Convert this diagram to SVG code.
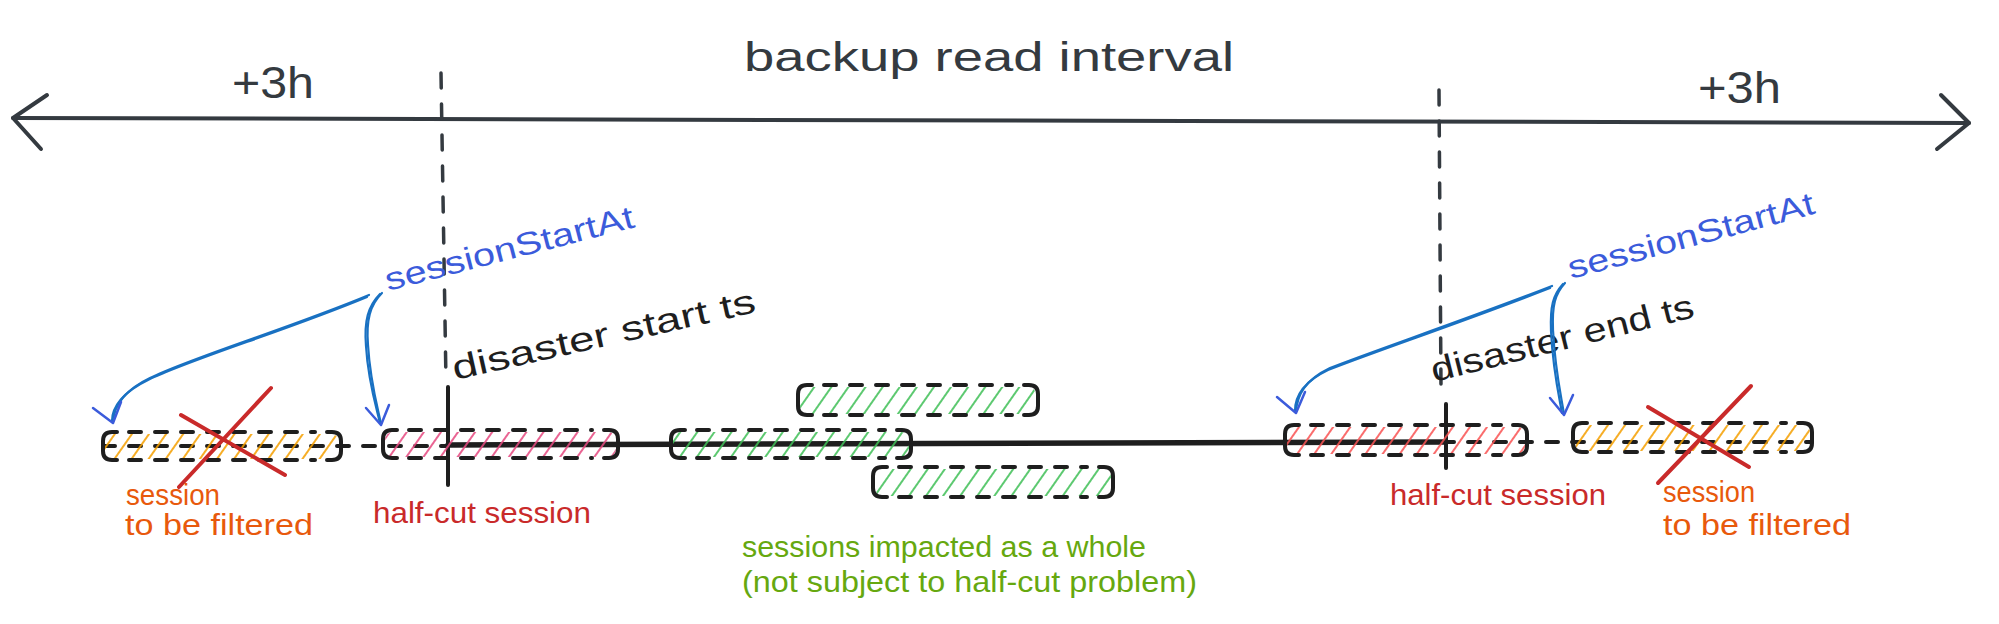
<svg xmlns="http://www.w3.org/2000/svg" width="1999" height="624" viewBox="0 0 1999 624">
<style>
.t{font-family:"Liberation Sans",Arial,sans-serif}
.edge{fill:none;stroke:#1e1e1e;stroke-width:4;stroke-linecap:round;stroke-linejoin:round}
.dash{fill:none;stroke:#1e1e1e;stroke-width:4;stroke-linecap:round;stroke-dasharray:12 14}
.axis{fill:none;stroke:#343a40;stroke-width:4;stroke-linecap:round;stroke-linejoin:round}
.vdash{fill:none;stroke:#343a40;stroke-width:3.5;stroke-linecap:round;stroke-dasharray:15 16}
.vsolid{fill:none;stroke:#1e1e1e;stroke-width:4;stroke-linecap:round}
.cross{fill:none;stroke:#c92a2a;stroke-width:4;stroke-linecap:round}
.arr{fill:none;stroke:#1971c2;stroke-width:2.2;stroke-linecap:round}
.head{fill:none;stroke:#3b5bdb;stroke-width:2.5;stroke-linecap:round;stroke-linejoin:round}
.orange{fill:#e8590c}
.red{fill:#c92a2a}
.green{fill:#66a80f}
.blue{fill:#3b5bdb}
.black{fill:#1e1e1e}
</style>
<defs>
<pattern id="h-orange" patternUnits="userSpaceOnUse" width="14" height="40" patternTransform="rotate(35)"><line x1="7" y1="0" x2="7" y2="40" stroke="#f59f00" stroke-width="1.7"/></pattern>
<pattern id="h-pink" patternUnits="userSpaceOnUse" width="14" height="40" patternTransform="rotate(35)"><line x1="7" y1="0" x2="7" y2="40" stroke="#e64980" stroke-width="1.7"/></pattern>
<pattern id="h-red" patternUnits="userSpaceOnUse" width="14" height="40" patternTransform="rotate(35)"><line x1="7" y1="0" x2="7" y2="40" stroke="#fa5252" stroke-width="1.7"/></pattern>
<pattern id="h-green" patternUnits="userSpaceOnUse" width="14" height="40" patternTransform="rotate(35)"><line x1="7" y1="0" x2="7" y2="40" stroke="#40c057" stroke-width="1.7"/></pattern>
</defs>
<rect width="1999" height="624" fill="#ffffff"/>

<g id="interval-axis">
<path class="axis" d="M13,118 L1969,123"/>
<path class="axis" d="M47,95 L13,118 L41,149"/>
<path class="axis" d="M1941,95 L1969,123 L1937,149"/>
<text class="t" x="744" y="71" font-size="41" fill="#343a40" textLength="490" lengthAdjust="spacingAndGlyphs">backup read interval</text>
<text class="t" x="232" y="98" font-size="44" fill="#343a40" textLength="82" lengthAdjust="spacingAndGlyphs">+3h</text>
<text class="t" x="1698" y="103" font-size="44" fill="#343a40" textLength="83" lengthAdjust="spacingAndGlyphs">+3h</text>
</g>

<g id="disaster-start">
<path class="vdash" d="M441,73 L446,382"/>
<path class="vsolid" d="M448,387 L448,485"/>
<text class="t black" x="455" y="380" font-size="34" transform="rotate(-12.7 455 380)" textLength="310" lengthAdjust="spacingAndGlyphs">disaster start ts</text>
</g>

<g id="disaster-end">
<path class="vdash" d="M1439,90 L1441,387"/>
<path class="vsolid" d="M1446,404 L1446,468"/>
<text class="t black" x="1434" y="382" font-size="34" transform="rotate(-14 1434 382)" textLength="270" lengthAdjust="spacingAndGlyphs">disaster end ts</text>
</g>

<g id="connectors">
<path class="dash" d="M103,446 H448" stroke-dasharray="14 14"/>
<path fill="none" stroke="#1e1e1e" stroke-width="5.5" stroke-linecap="round" d="M448,445 L1446,442"/>
<path class="dash" d="M1442,442 H1812" stroke-dasharray="14 14"/>
<path class="arr" d="M369,295 C290,328 190,358 150,378 C125,390 114,405 113,422"/>
<path class="arr" d="M367,297 C288,330 188,360 148,380 C123,392 112,407 112,421"/>
<path class="head" d="M93,408 L113,423 L121,402"/>
<path class="arr" d="M382,293 C370,305 366,320 368,345 C370,380 377,405 381,424"/>
<path class="arr" d="M380,294 C368,306 364,321 366,346 C368,381 376,406 380,423"/>
<path class="head" d="M366,408 L381,425 L389,405"/>
<path class="arr" d="M1552,286 C1470,318 1370,352 1330,368 C1305,380 1297,395 1296,412"/>
<path class="arr" d="M1550,288 C1468,320 1368,354 1328,370 C1303,382 1295,397 1295,411"/>
<path class="head" d="M1277,397 L1296,413 L1305,392"/>
<path class="arr" d="M1565,283 C1555,294 1552,305 1553,330 C1555,370 1561,395 1564,414"/>
<path class="arr" d="M1563,284 C1553,295 1550,306 1551,331 C1553,371 1559,396 1562,413"/>
<path class="head" d="M1550,398 L1564,415 L1573,395"/>
</g>

<g id="session-filtered-left">
<rect x="105" y="434" width="234" height="25" rx="8" fill="url(#h-orange)"/>
<path class="edge" d="M117,432 H112 Q103,432 103,441 V451 Q103,460 112,460 H117"/>
<path class="edge" d="M327,432 H332 Q341,432 341,441 V451 Q341,460 332,460 H327"/>
<path class="dash" d="M129,432 H315 M129,460 H315"/>
<path class="cross" d="M181,415 L285,475 M271,388 L179,487"/>
<text class="t orange" x="126" y="505" font-size="29" textLength="94" lengthAdjust="spacingAndGlyphs">session</text>
<text class="t orange" x="125" y="535" font-size="29" textLength="188" lengthAdjust="spacingAndGlyphs">to be filtered</text>
</g>

<g id="session-halfcut-left">
<rect x="385" y="432" width="231" height="25" rx="8" fill="url(#h-pink)"/>
<path class="edge" d="M397,430 H392 Q383,430 383,439 V449 Q383,458 392,458 H397"/>
<path class="edge" d="M604,430 H609 Q618,430 618,439 V449 Q618,458 609,458 H604"/>
<path class="dash" d="M409,430 H592 M409,458 H592"/>
<text class="t red" x="373" y="523" font-size="29" textLength="218" lengthAdjust="spacingAndGlyphs">half-cut session</text>
</g>

<g id="session-start-label-left">
<text class="t blue" x="388" y="291" font-size="32" transform="rotate(-14.5 388 291)" textLength="256" lengthAdjust="spacingAndGlyphs">sessionStartAt</text>
</g>

<g id="session-whole-top">
<rect x="800" y="387" width="236" height="27" rx="8" fill="url(#h-green)"/>
<path class="edge" d="M812,385 H807 Q798,385 798,394 V406 Q798,415 807,415 H812"/>
<path class="edge" d="M1024,385 H1029 Q1038,385 1038,394 V406 Q1038,415 1029,415 H1024"/>
<path class="dash" d="M824,385 H1012 M824,415 H1012"/>
</g>

<g id="session-whole-mid">
<rect x="673" y="432" width="236" height="25" rx="8" fill="url(#h-green)"/>
<path class="edge" d="M685,430 H680 Q671,430 671,439 V449 Q671,458 680,458 H685"/>
<path class="edge" d="M897,430 H902 Q911,430 911,439 V449 Q911,458 902,458 H897"/>
<path class="dash" d="M697,430 H885 M697,458 H885"/>
</g>

<g id="session-whole-bottom">
<rect x="875" y="469" width="236" height="27" rx="8" fill="url(#h-green)"/>
<path class="edge" d="M887,467 H882 Q873,467 873,476 V488 Q873,497 882,497 H887"/>
<path class="edge" d="M1099,467 H1104 Q1113,467 1113,476 V488 Q1113,497 1104,497 H1099"/>
<path class="dash" d="M899,467 H1087 M899,497 H1087"/>
</g>

<g id="whole-label">
<text class="t green" x="742" y="557" font-size="29" textLength="404" lengthAdjust="spacingAndGlyphs">sessions impacted as a whole</text>
<text class="t green" x="742" y="592" font-size="29" textLength="455" lengthAdjust="spacingAndGlyphs">(not subject to half-cut problem)</text>
</g>

<g id="session-halfcut-right">
<rect x="1287" y="427" width="238" height="27" rx="8" fill="url(#h-red)"/>
<path class="edge" d="M1299,425 H1294 Q1285,425 1285,434 V446 Q1285,455 1294,455 H1299"/>
<path class="edge" d="M1513,425 H1518 Q1527,425 1527,434 V446 Q1527,455 1518,455 H1513"/>
<path class="dash" d="M1311,425 H1501 M1311,455 H1501"/>
<text class="t red" x="1390" y="505" font-size="29" textLength="216" lengthAdjust="spacingAndGlyphs">half-cut session</text>
</g>

<g id="session-filtered-right">
<rect x="1575" y="425" width="235" height="26" rx="8" fill="url(#h-orange)"/>
<path class="edge" d="M1587,423 H1582 Q1573,423 1573,432 V443 Q1573,452 1582,452 H1587"/>
<path class="edge" d="M1798,423 H1803 Q1812,423 1812,432 V443 Q1812,452 1803,452 H1798"/>
<path class="dash" d="M1599,423 H1786 M1599,452 H1786"/>
<path class="cross" d="M1648,407 L1749,467 M1751,386 L1658,483"/>
<text class="t orange" x="1663" y="502" font-size="29" textLength="92" lengthAdjust="spacingAndGlyphs">session</text>
<text class="t orange" x="1663" y="535" font-size="29" textLength="188" lengthAdjust="spacingAndGlyphs">to be filtered</text>
</g>

<g id="session-start-label-right">
<text class="t blue" x="1571" y="279" font-size="32" transform="rotate(-15 1571 279)" textLength="254" lengthAdjust="spacingAndGlyphs">sessionStartAt</text>
</g>
</svg>
